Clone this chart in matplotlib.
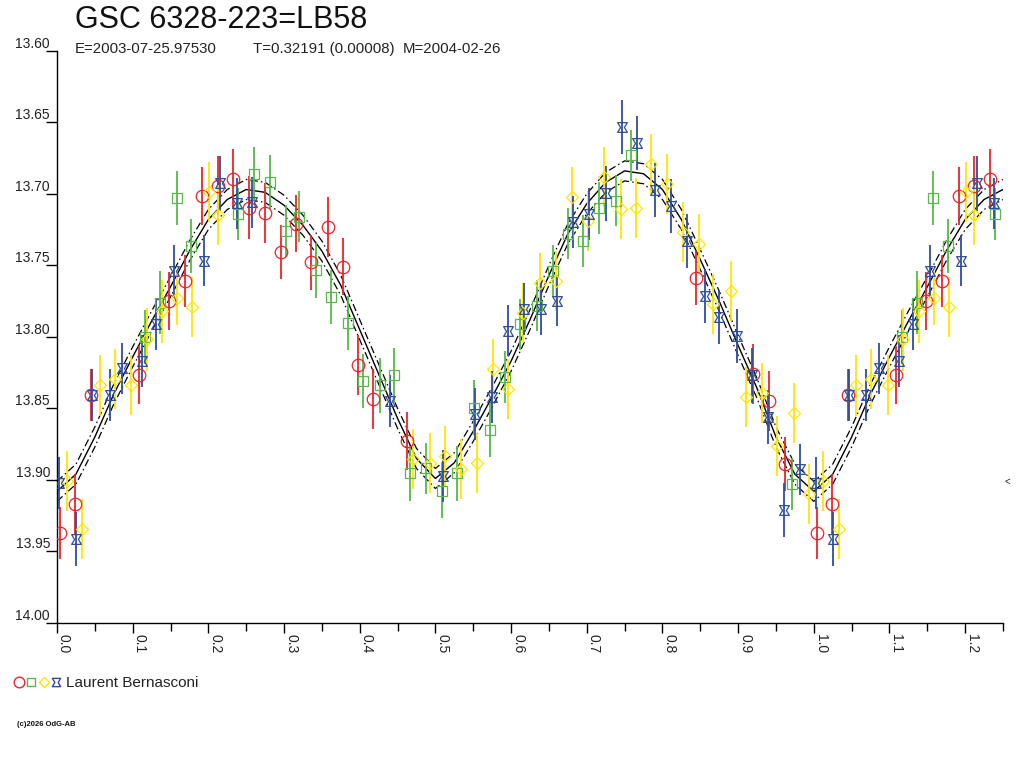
import numpy as np
import matplotlib
matplotlib.use("Agg")
import matplotlib.pyplot as plt
from matplotlib.path import Path
from matplotlib.lines import Line2D
from matplotlib.legend_handler import HandlerTuple

plt.rcParams["font.family"] = ["Liberation Sans", "DejaVu Sans"]

# ---------------- data (phase, mag, err) per night ----------------
red_pts = [
    (0.004, 13.937, 0.018), (0.024, 13.917, 0.021), (0.045, 13.8406, 0.018),
    (0.1083, 13.8267, 0.020), (0.148, 13.775, 0.020), (0.169, 13.761, 0.018),
    (0.192, 13.7016, 0.020), (0.2123, 13.6946, 0.021), (0.233, 13.6897, 0.021),
    (0.254, 13.7097, 0.022), (0.275, 13.7132, 0.021), (0.296, 13.7405, 0.019),
    (0.3157, 13.721, 0.020), (0.3355, 13.748, 0.019), (0.358, 13.7234, 0.021),
    (0.3778, 13.751, 0.020), (0.3976, 13.8197, 0.021), (0.4174, 13.8433, 0.021),
    (0.462, 13.8728, 0.020), (0.844, 13.759, 0.019), (0.920, 13.826, 0.021),
    (0.941, 13.845, 0.021), (0.9617, 13.8889, 0.019),
]
green_pts = [
    (0.1163, 13.800, 0.019), (0.136, 13.776, 0.022), (0.158, 13.703, 0.019),
    (0.177, 13.7365, 0.019), (0.239, 13.714, 0.018), (0.2598, 13.686, 0.019),
    (0.2814, 13.6918, 0.019), (0.302, 13.726, 0.018), (0.320, 13.716, 0.018),
    (0.3421, 13.7535, 0.019), (0.3619, 13.772, 0.019), (0.3844, 13.7903, 0.019),
    (0.4042, 13.831, 0.019), (0.4267, 13.834, 0.019), (0.4452, 13.8267, 0.019),
    (0.4663, 13.8954, 0.019), (0.487, 13.8919, 0.018), (0.5082, 13.9075, 0.019),
    (0.5288, 13.8954, 0.019), (0.5509, 13.8494, 0.019), (0.572, 13.865, 0.019),
    (0.5922, 13.828, 0.018), (0.6116, 13.7912, 0.018), (0.6337, 13.7782, 0.018),
    (0.6556, 13.754, 0.018), (0.6757, 13.7279, 0.018), (0.6953, 13.733, 0.018),
    (0.7168, 13.710, 0.018), (0.7384, 13.7048, 0.018), (0.7583, 13.6731, 0.018),
    (0.9718, 13.9028, 0.018),
]
yellow_pts = [
    (0.0128, 13.9008, 0.021), (0.0334, 13.934, 0.021), (0.0564, 13.834, 0.021),
    (0.0762, 13.8297, 0.021), (0.0982, 13.8336, 0.021), (0.1185, 13.8017, 0.022),
    (0.139, 13.782, 0.022), (0.159, 13.773, 0.019), (0.179, 13.779, 0.021),
    (0.2008, 13.699, 0.021), (0.2123, 13.715, 0.021), (0.4707, 13.8856, 0.021),
    (0.4927, 13.8884, 0.021), (0.5126, 13.8833, 0.021), (0.5333, 13.8926, 0.021),
    (0.5552, 13.8884, 0.021), (0.5755, 13.8225, 0.021), (0.5962, 13.8365, 0.021),
    (0.616, 13.7835, 0.021), (0.638, 13.7622, 0.021), (0.660, 13.761, 0.021),
    (0.680, 13.702, 0.021), (0.7012, 13.719, 0.021), (0.723, 13.6885, 0.021),
    (0.7446, 13.7109, 0.021), (0.765, 13.710, 0.021), (0.7847, 13.6794, 0.021),
    (0.8054, 13.6934, 0.021), (0.8273, 13.7265, 0.021), (0.848, 13.735, 0.021),
    (0.8666, 13.777, 0.021), (0.890, 13.768, 0.021), (0.910, 13.8423, 0.021),
    (0.931, 13.8395, 0.021), (0.9515, 13.8763, 0.021), (0.974, 13.8535, 0.021),
    (0.9938, 13.9098, 0.021),
]
blue_pts = [
    (0.003, 13.902, 0.018), (0.025, 13.9415, 0.019), (0.046, 13.8406, 0.018),
    (0.0696, 13.8406, 0.018), (0.0855, 13.822, 0.018), (0.112, 13.817, 0.018),
    (0.131, 13.791, 0.018), (0.154, 13.754, 0.018), (0.194, 13.7468, 0.018),
    (0.2158, 13.6927, 0.019), (0.2375, 13.7067, 0.018), (0.258, 13.706, 0.018),
    (0.440, 13.845, 0.018), (0.5103, 13.8973, 0.018), (0.5529, 13.854, 0.018),
    (0.575, 13.842, 0.018), (0.5962, 13.7957, 0.018), (0.6173, 13.7805, 0.018),
    (0.6394, 13.7805, 0.018), (0.661, 13.7747, 0.018), (0.6816, 13.7197, 0.018),
    (0.7032, 13.7143, 0.018), (0.7252, 13.6997, 0.019), (0.746, 13.6535, 0.019),
    (0.767, 13.6643, 0.019), (0.790, 13.6974, 0.019), (0.811, 13.7086, 0.019),
    (0.8318, 13.733, 0.019), (0.856, 13.7714, 0.019), (0.8745, 13.786, 0.019),
    (0.8983, 13.7995, 0.019), (0.918, 13.827, 0.019), (0.9396, 13.856, 0.019),
    (0.9608, 13.921, 0.019), (0.9824, 13.8926, 0.018),
]

# fitted light curve, sampled every 0.025 in phase (0 .. 1)
fit_phase = np.round(np.arange(41) * 0.025, 3)
fit_mag = [
    13.908, 13.896, 13.870, 13.840, 13.814, 13.789, 13.765, 13.740, 13.718, 13.704,
    13.697, 13.699, 13.708, 13.722, 13.740, 13.764, 13.795, 13.826, 13.857, 13.885,
    13.899, 13.888, 13.866, 13.842, 13.817, 13.788, 13.757, 13.728, 13.707, 13.692,
    13.684, 13.686, 13.697, 13.718, 13.746, 13.775, 13.806, 13.836, 13.870, 13.896,
    13.908,
]
fit_sigma = 0.007

x_ticks = [0.0, 0.1, 0.2, 0.3, 0.4, 0.5, 0.6, 0.7, 0.8, 0.9, 1.0, 1.1, 1.2]
y_ticks = [13.60, 13.65, 13.70, 13.75, 13.80, 13.85, 13.90, 13.95, 14.00]
max_phase = 1.25

title = "GSC 6328-223=LB58"
epoch = "E=2003-07-25.97530"
period = "T=0.32191 (0.00008)"
updated = "M=2004-02-26"
observer = "Laurent Bernasconi"

# ---------------- helpers ----------------
def wrap(pts):
    """Repeat phases below (max_phase-1) one cycle later, as the chart does."""
    a = np.array(pts, dtype=float)
    extra = a[a[:, 0] < max_phase - 1].copy()
    extra[:, 0] += 1.0
    return np.vstack([a, extra])

hourglass = Path([(-1, 1), (1, 1), (0.4, 0), (1, -1), (-1, -1), (-0.4, 0), (-1, 1)],
                 [Path.MOVETO] + [Path.LINETO] * 5 + [Path.CLOSEPOLY])

series = [
    (red_pts, "#e8242b", "o", 9.0),
    (green_pts, "#58b84a", "s", 6.5),
    (yellow_pts, "#ffe600", "D", 6.3),
    (blue_pts, "#2e4da0", hourglass, 7.0),
]

# ---------------- figure ----------------
fig = plt.figure(figsize=(10.24, 7.68), dpi=100)
ax = fig.add_axes([57 / 1024, 1 - 623 / 768, 946 / 1024, 572.3 / 768])

fp = np.concatenate([fit_phase, fit_phase[1:11] + 1.0])
fm = np.concatenate([fit_mag, fit_mag[1:11]])
ax.plot(fp, fm, color="black", lw=1.0, zorder=2)
ax.plot(fp, fm - fit_sigma, color="black", lw=0.9, dashes=(6, 2.5, 1.2, 2.5), zorder=2)
ax.plot(fp, fm + fit_sigma, color="black", lw=0.9, dashes=(6, 2.5, 1.2, 2.5), zorder=2)

handles = []
for pts, col, mk, ms in series:
    a = wrap(pts)
    ax.errorbar(a[:, 0], a[:, 1], yerr=a[:, 2], linestyle="none", marker=mk,
                ms=ms, mfc="none", mec=col, mew=0.9, ecolor=col,
                elinewidth=1.3, capsize=0, zorder=3)
    handles.append(Line2D([], [], linestyle="none", marker=mk, ms=ms * 0.85,
                          mfc="none", mec=col, mew=1.0))

ax.set_xlim(0, max_phase)
ax.set_ylim(14.0, 13.6)
for s in ["top", "right"]:
    ax.spines[s].set_visible(False)
ax.spines["left"].set_linewidth(1.0)
ax.spines["bottom"].set_linewidth(1.0)

ax.set_xticks(x_ticks)
ax.set_xticklabels([f"{t:.1f}" for t in x_ticks])
ax.set_xticks(np.array(x_ticks) + 0.05, minor=True)
ax.tick_params(axis="x", which="major", direction="out", length=7.2, width=1.0,
               pad=1, labelsize=10, labelcolor="#222222")
ax.tick_params(axis="x", which="minor", direction="out", length=6, width=1.0)
for lab in ax.get_xticklabels():
    lab.set_rotation(-90)
    lab.set_ha("left")
    lab.set_va("top")

ax.set_yticks(y_ticks)
ax.set_yticklabels([f"{t:.2f}" for t in y_ticks])
ax.tick_params(axis="y", which="major", direction="out", length=8, width=1.0,
               pad=-3, labelsize=10, labelcolor="#222222")
for lab in ax.get_yticklabels():
    lab.set_va("bottom")

# small marker on the right edge
ax.annotate("<", xy=(1.002, 13.901), xycoords=("axes fraction", "data"),
            fontsize=7, va="center", ha="left", color="#222222", annotation_clip=False)

# ---------------- texts ----------------
fig.text(75 / 1024, 1 - 28 / 768, title, fontsize=22, va="baseline", color="#111111")
fig.text(75 / 1024, 1 - 53 / 768, epoch, fontsize=10.8, va="baseline", color="#222222")
fig.text(253 / 1024, 1 - 53 / 768, period, fontsize=10.8, va="baseline", color="#222222")
fig.text(403 / 1024, 1 - 53 / 768, updated, fontsize=10.8, va="baseline", color="#222222")

fig.legend(handles=[tuple(handles)], labels=[observer],
           handler_map={tuple: HandlerTuple(ndivide=None, pad=0.0)},
           loc="center left", bbox_to_anchor=(13 / 1024, 1 - 683 / 768),
           bbox_transform=fig.transFigure, frameon=False, fontsize=11,
           handlelength=3.2, handletextpad=0.3, borderpad=0, borderaxespad=0,
           labelcolor="#222222")

fig.text(17 / 1024, 1 - 725 / 768, "(c)2026 OdG-AB", fontsize=5.5, weight="bold",
         va="center", color="#111111")

fig.savefig("out.png", dpi=100)
